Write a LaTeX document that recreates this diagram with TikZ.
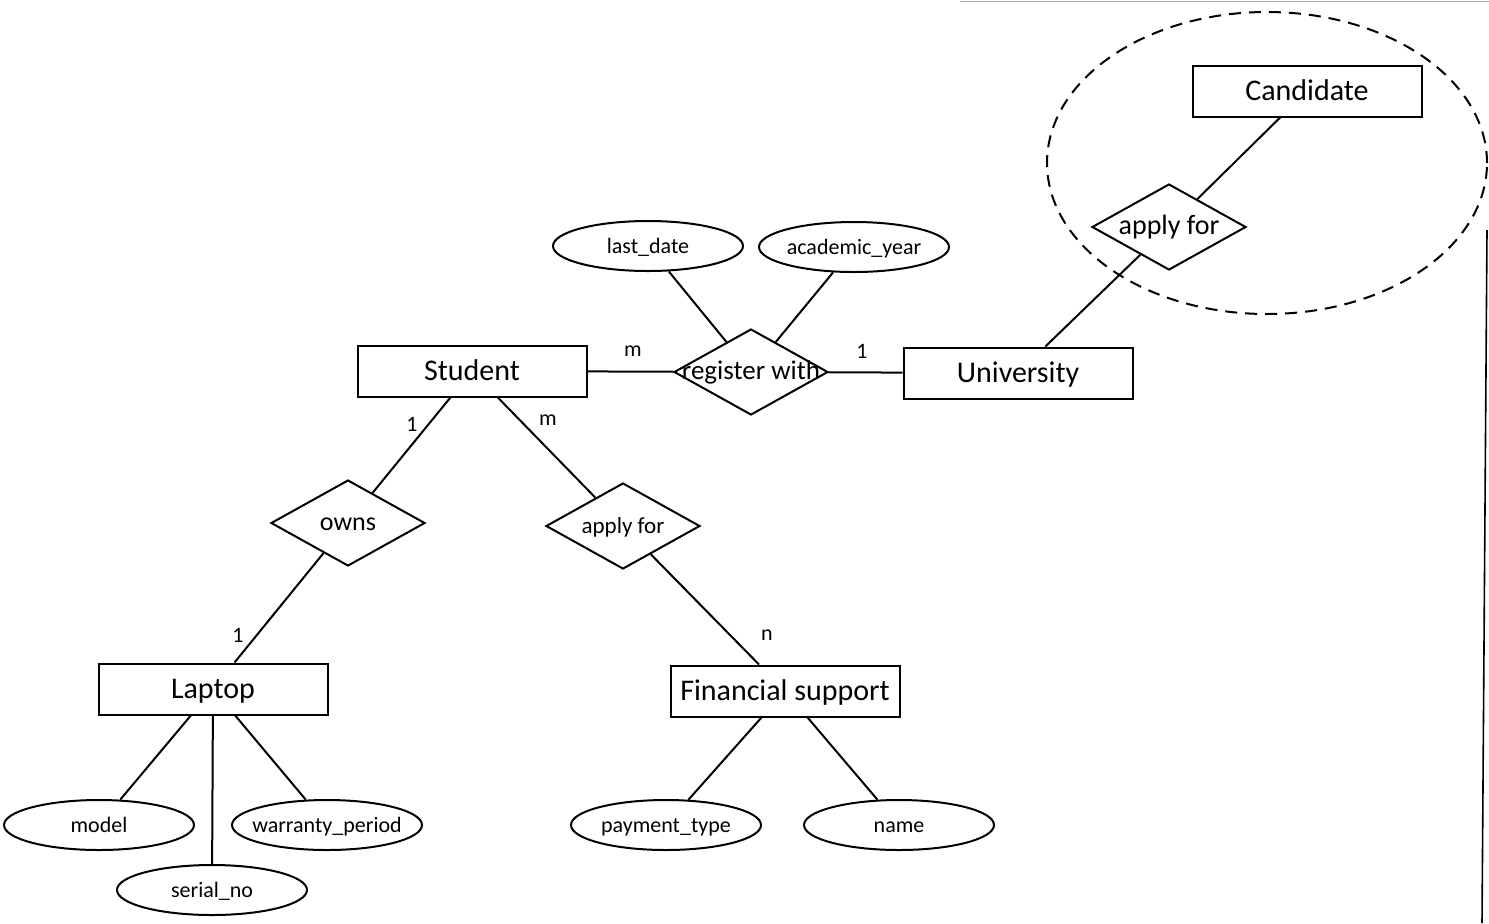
\documentclass[tikz,border=0pt]{standalone}
\usepackage{fontspec}
\setmainfont{Carlito}
\usetikzlibrary{shapes.geometric}
\begin{document}
\begin{tikzpicture}[x=0.5pt,y=-0.5pt,
  line width=1pt,
  entity/.style={draw,rectangle,minimum width=114.5pt,minimum height=25.5pt,inner sep=0pt,text height=10pt,text depth=0.8pt,font=\fontsize{15}{18}\selectfont},
  attr/.style={draw,ellipse,minimum width=95pt,minimum height=25pt,inner sep=0pt,text height=7.5pt,text depth=0.5pt,font=\fontsize{11}{13}\selectfont},
  rel/.style={draw,diamond,minimum width=77pt,minimum height=43pt,inner sep=0pt,text height=8.5pt,text depth=0.8pt},
  card/.style={inner sep=0pt,font=\fontsize{11}{13}\selectfont}]
\useasboundingbox (0,0) rectangle (1489,923);
% scan border artifacts
\draw[line width=0.5pt,black!35] (960,1) -- (1489,1);
\draw[line width=0.8pt] (1487,230) -- (1482,923);
% entities
\node[entity] (candidate) at (1307,91) {Candidate};
\node[entity] (university) at (1018,373) {University};
\node[entity] (student) at (472,371) {Student};
\node[entity] (laptop) at (213,689) {Laptop};
\node[entity] (fin) at (785,691) {Financial support};
% relationships
\node[rel] (applyU) at (1169,227) {\makebox[0pt]{\fontsize{14}{16}\selectfont apply for}};
\node[rel] (register) at (751,372) {\makebox[0pt]{\fontsize{13.5}{16}\selectfont register with}};
\node[rel] (owns) at (348,523) {\makebox[0pt]{\fontsize{13}{16}\selectfont owns}};
\node[rel] (applyF) at (623,526) {\makebox[0pt]{\fontsize{11.5}{14}\selectfont apply for}};
% attributes
\node[attr] (lastdate) at (648,246) {\makebox[0pt]{last\_date}};
\node[attr] (acadyear) at (854,247) {\makebox[0pt]{academic\_year}};
\node[attr] (model) at (99,825) {\makebox[0pt]{model}};
\node[attr] (serial) at (212,890) {\makebox[0pt]{serial\_no}};
\node[attr] (warranty) at (327,825) {\makebox[0pt]{warranty\_period}};
\node[attr] (payment) at (666,825) {\makebox[0pt]{payment\_type}};
\node[attr] (fname) at (899,825) {\makebox[0pt]{name}};
% aggregation
\draw[dashed,dash pattern=on 6pt off 4pt] (1267,163) ellipse [x radius=110pt,y radius=75.5pt];
% connectors
\draw (candidate) -- (applyU);
\draw (applyU) -- (university);
\draw (student) -- (register);
\draw (register) -- (university);
\draw (lastdate) -- (register);
\draw (acadyear) -- (register);
\draw (student) -- (owns);
\draw (student) -- (applyF);
\draw (owns) -- (laptop);
\draw (applyF) -- (fin);
\draw (laptop) -- (model);
\draw (laptop) -- (serial);
\draw (laptop) -- (warranty);
\draw (fin) -- (payment);
\draw (fin) -- (fname);
% cardinalities
\node[card] (c1) at (633,351) {m};
\node[card] (c2) at (862,351) {1};
\node[card] (c3) at (412,424) {1};
\node[card] (c4) at (548,420) {m};
\node[card] (c5) at (238,635) {1};
\node[card] (c6) at (767,635) {n};
\end{tikzpicture}
\end{document}
